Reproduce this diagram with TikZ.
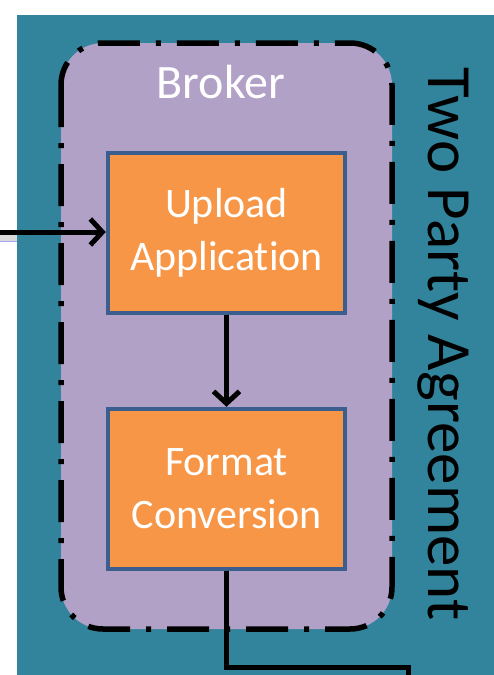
\documentclass[tikz,border=0pt]{standalone}
\usepackage{fontspec}
\setmainfont[Ligatures=NoCommon]{Carlito}
\usetikzlibrary{arrows.meta}
\definecolor{tealbg}{HTML}{31849B}
\definecolor{lav}{HTML}{B2A1C7}
\definecolor{orng}{HTML}{F79646}
\definecolor{bord}{HTML}{3B5E8E}
\begin{document}
\begin{tikzpicture}[x=1pt,y=-1pt,
  procbox/.style={draw=bord, line width=4.5pt, fill=orng, minimum width=237pt,
    minimum height=160pt, text=white, font=\fontsize{42}{53}\selectfont,
    align=center, inner sep=0pt},
  conn/.style={draw=black, line width=5pt},
  arr/.style={conn, -{Straight Barb[length=12pt,width=26pt]}},
  brokerbox/.style={fill=lav, draw=black, line width=5.5pt, rounded corners=42pt,
    dash pattern=on 42pt off 16pt on 5pt off 16pt}]
\useasboundingbox (0,0) rectangle (494,675);
\fill[white] (0,0) rectangle (494,675);
% remnant behind the background at the left
\fill[gray!30] (0,235) rectangle (17,241);
\draw[blue!35, line width=1pt] (0,241.5) -- (17,241.5);
% background
\fill[tealbg] (17,15) rectangle (494,675);
% broker container
\path[brokerbox] (61,43) rectangle (392,629);
\node[anchor=base, text=white, font=\fontsize{48}{50}\selectfont] (broker) at (221,98) {Broker};
\node[anchor=base, rotate=-90, text=black, font=\fontsize{63}{65}\selectfont] (tpa) at (428,344) {Two Party Agreement};
% boxes
\node[procbox] (up) at (226.5,233) {Upload\\Application};
\node[procbox] (fc) at (226.5,489) {Format\\Conversion};
% connectors
\coordinate (inL) at (0,232);
\coordinate (bend) at (408,667);
\coordinate (outB) at (408,680);
\draw[arr] (inL) -- (up.west |- inL);
\draw[arr] (up.south) -- (fc.north);
\draw[conn] (fc.south) |- (bend) -- (outB);
\end{tikzpicture}
\end{document}
